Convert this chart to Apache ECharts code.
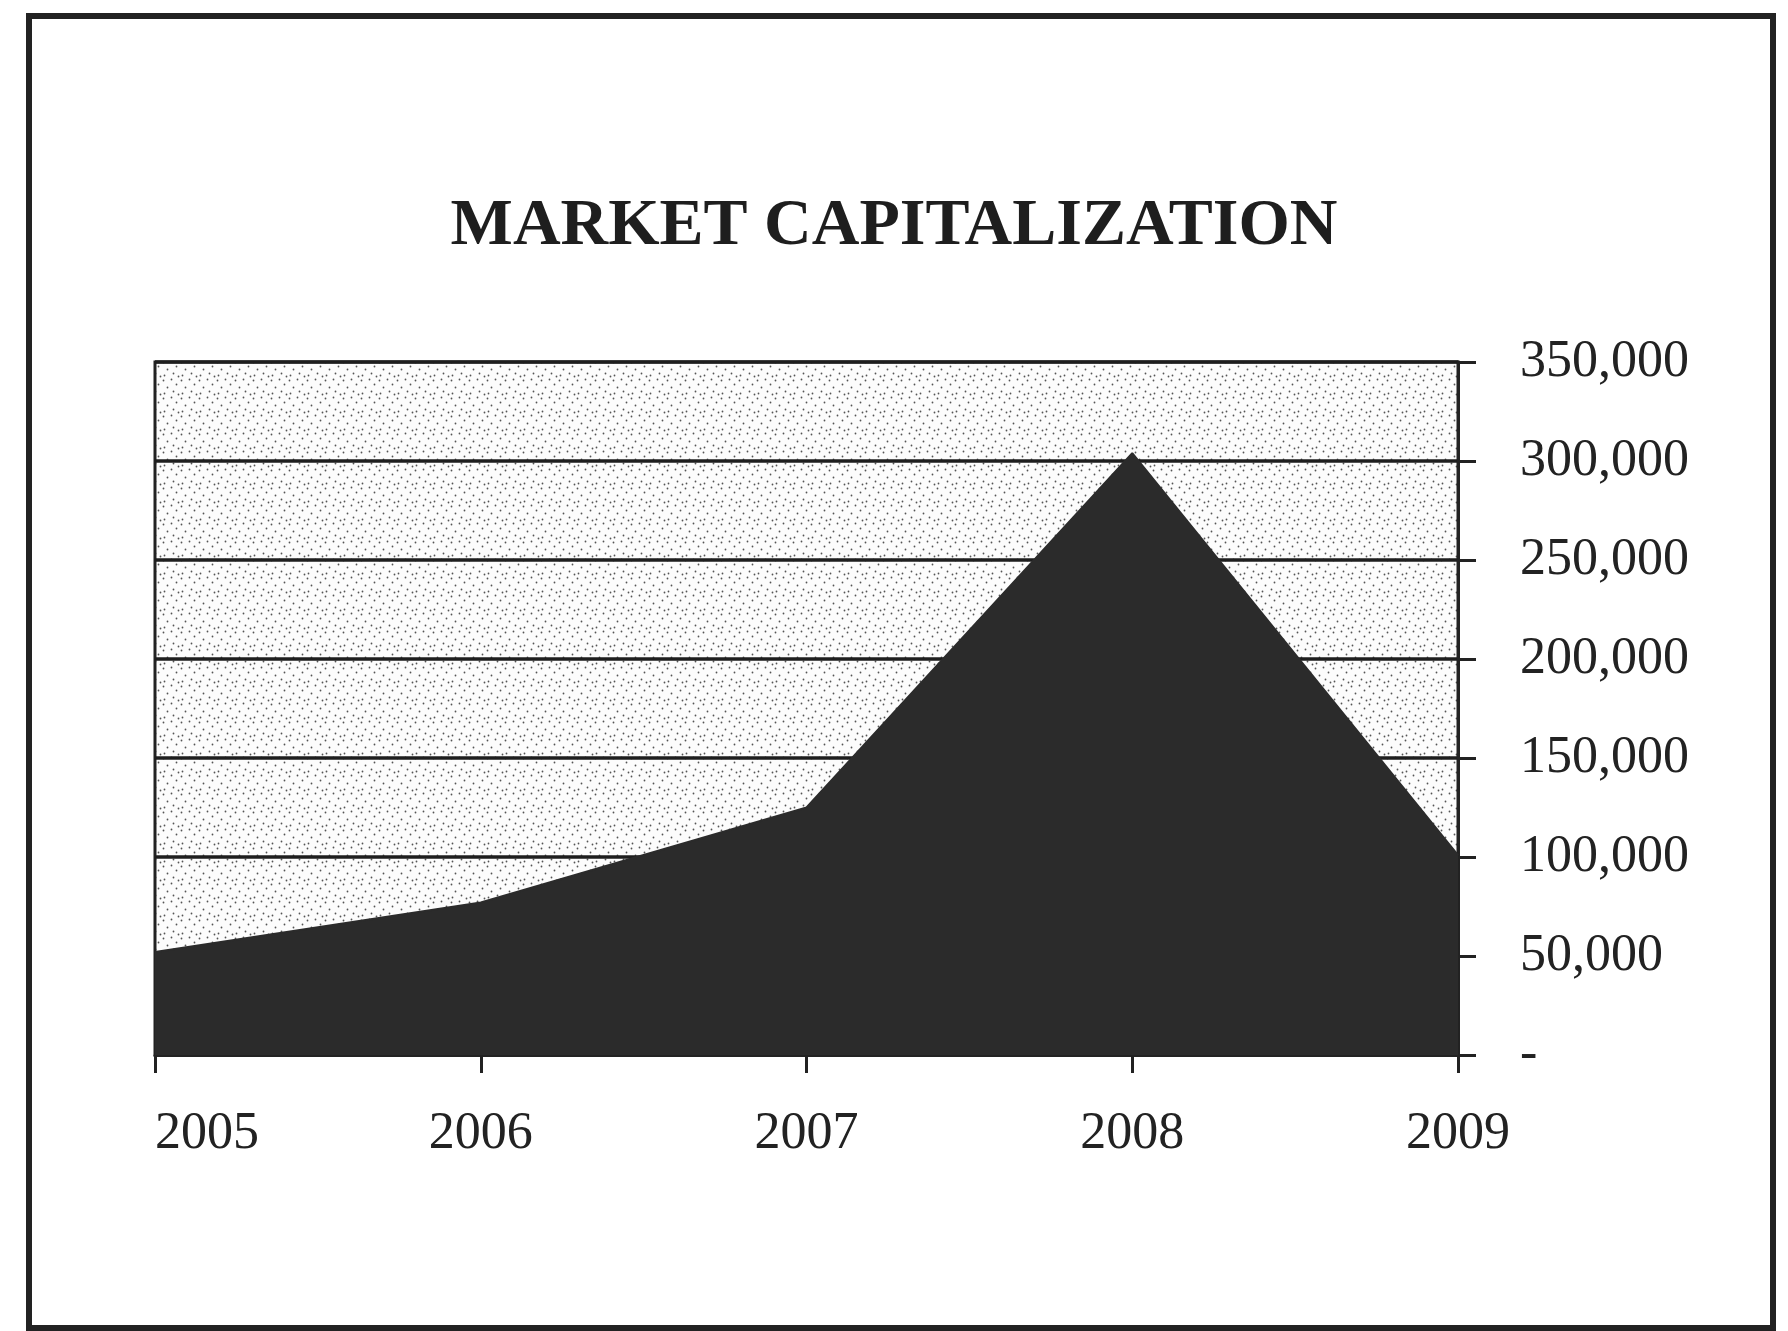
<!DOCTYPE html>
<html>
<head>
<meta charset="utf-8">
<script src="https://cdn.jsdelivr.net/npm/echarts@6/dist/echarts.min.js"></script>
<style>
html,body{margin:0;padding:0;background:#fff;}
#chart{width:1788px;height:1331px;}
</style>
</head>
<body>
<div id="chart"></div>
<script>
const titleText = 'MARKET CAPITALIZATION';
const years = ['2005', '2006', '2007', '2008', '2009'];
const marketCap = [52000, 77000, 125000, 304000, 101000];
const yTicks = [0, 50000, 100000, 150000, 200000, 250000, 300000, 350000];

// stipple texture for the plot background
function makePattern() {
  const c = document.createElement('canvas');
  c.width = 18; c.height = 18;
  const g = c.getContext('2d');
  g.fillStyle = '#fcfcfc';
  g.fillRect(0, 0, 18, 18);
  g.fillStyle = '#555';
  const dots = [[1,2],[9,1],[14,6],[5,9],[11,13],[2,15],[16,16]];
  dots.forEach(d => { g.beginPath(); g.arc(d[0] + 0.5, d[1] + 0.5, 0.9, 0, Math.PI * 2); g.fill(); });
  return c;
}

const serif = '"Liberation Serif", "DejaVu Serif", serif';
const chart = echarts.init(document.getElementById('chart'), null, {renderer: 'canvas'});

chart.setOption({
  backgroundColor: '#ffffff',
  animation: false,
  title: {
    text: titleText,
    left: 'center',
    top: 189,
    textStyle: {fontFamily: serif, fontWeight: 'bold', fontSize: 66, color: '#1e1e1e'}
  },
  graphic: [{
    type: 'rect',
    shape: {x: 29, y: 16, width: 1744, height: 1312},
    style: {fill: 'none', stroke: '#222', lineWidth: 6},
    z: 100
  }],
  grid: {
    left: 155, right: 330, top: 362, bottom: 276,
    show: true,
    borderColor: '#222', borderWidth: 3,
    backgroundColor: {image: makePattern(), repeat: 'repeat'}
  },
  xAxis: {
    type: 'category',
    boundaryGap: false,
    data: years.map((y, i) => i === 0 ? {value: y, textStyle: {align: 'left'}} : y),
    axisLine: {show: true, lineStyle: {color: '#222', width: 3}},
    axisTick: {show: true, length: 18, lineStyle: {color: '#222', width: 3}},
    axisLabel: {fontFamily: serif, fontSize: 52, color: '#222', margin: 53}
  },
  yAxis: {
    type: 'value',
    position: 'right',
    min: 0, max: 350000, interval: 50000,
    axisLine: {show: true, lineStyle: {color: '#222', width: 3}},
    axisTick: {show: true, length: 18, lineStyle: {color: '#222', width: 3}},
    splitLine: {show: true, lineStyle: {color: '#1e1e1e', width: 3.5}},
    axisLabel: {
      fontFamily: serif, fontSize: 52, color: '#222', margin: 62,
      formatter: function (v) { return v === 0 ? '-' : v.toLocaleString('en-US'); }
    }
  },
  series: [{
    type: 'line',
    data: marketCap,
    symbol: 'none',
    lineStyle: {color: '#2b2b2b', width: 2},
    areaStyle: {color: '#2b2b2b', opacity: 1}
  }]
});
</script>
</body>
</html>
